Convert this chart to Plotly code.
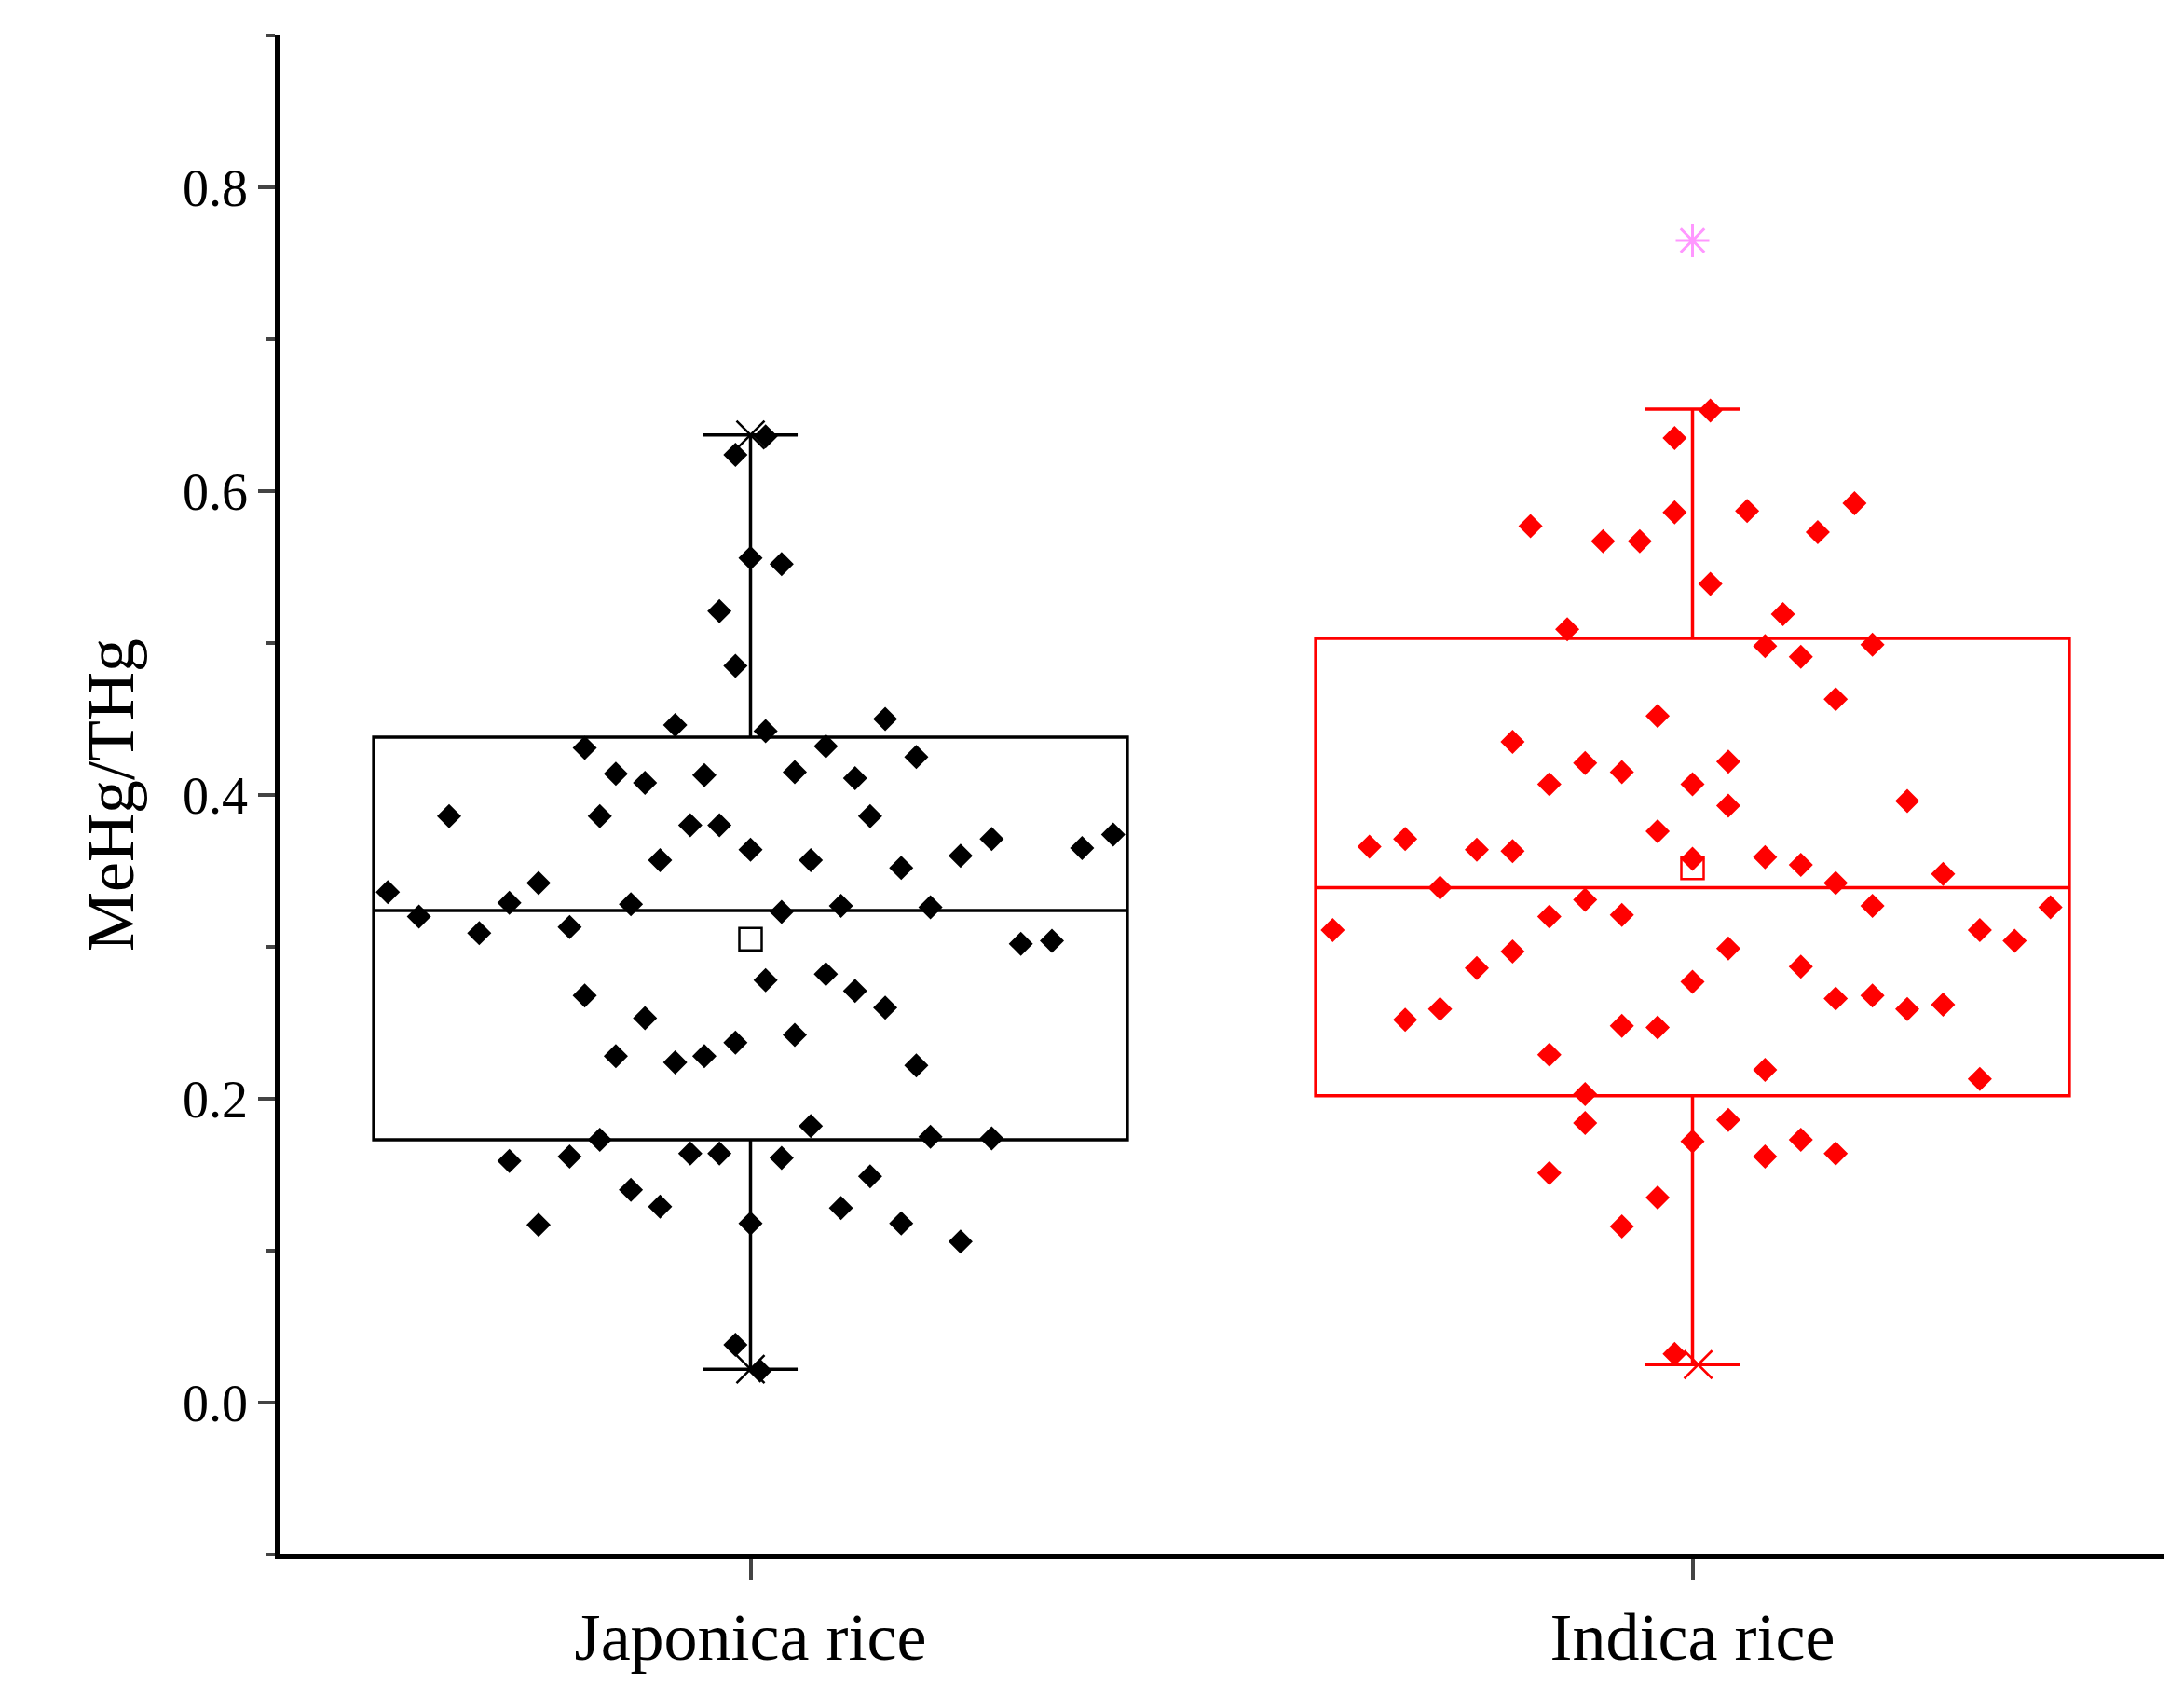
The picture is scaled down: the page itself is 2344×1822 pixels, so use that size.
import plotly.graph_objects as go

# group names and positions
groups = ["Japonica rice", "Indica rice"]
group_pos = [1, 2]
colors = ["black", "red"]

# box statistics
q1 = [0.173, 0.202]
median = [0.324, 0.339]
q3 = [0.438, 0.503]
lower = [0.022, 0.025]
upper = [0.637, 0.654]
means = [0.305, 0.352]

# min / max / outlier markers
jap_extreme_y = [0.637, 0.022]
ind_extreme_y = [0.025]
ind_outlier_y = [0.765]

# jittered raw points (horizontal offset from group centre, value)
jap_dx = [-0.385, -0.352, -0.320, -0.288, -0.256, -0.225, -0.192, -0.176, -0.160, -0.176,
          -0.143, -0.112, -0.127, -0.096, -0.080, -0.064, -0.049, -0.033, -0.033, -0.016,
          -0.016, 0.0, 0.016, 0.033, 0.016, 0.0, 0.047, 0.064, 0.080, 0.111,
          0.127, 0.143, 0.160, 0.176, 0.191, 0.223, 0.256, 0.287, 0.320, 0.352,
          0.385, -0.112, -0.143, -0.080, -0.049, -0.016, 0.016, 0.047, 0.080, 0.111,
          0.143, 0.176, 0.096, 0.033, -0.256, -0.225, -0.192, -0.160, -0.127, -0.096,
          -0.064, -0.033, 0.0, 0.033, 0.064, 0.096, 0.127, 0.160, 0.191, 0.223,
          0.256, -0.016, 0.010]
jap_y = [0.336, 0.320, 0.386, 0.309, 0.329, 0.342, 0.313, 0.268, 0.386, 0.431,
         0.414, 0.408, 0.328, 0.357, 0.446, 0.380, 0.413, 0.380, 0.521, 0.485,
         0.624, 0.556, 0.636, 0.552, 0.442, 0.364, 0.415, 0.357, 0.432, 0.411,
         0.386, 0.450, 0.352, 0.425, 0.326, 0.360, 0.371, 0.302, 0.304, 0.365,
         0.374, 0.253, 0.228, 0.224, 0.228, 0.237, 0.278, 0.242, 0.282, 0.271,
         0.260, 0.222, 0.327, 0.323, 0.159, 0.117, 0.162, 0.173, 0.140, 0.129,
         0.164, 0.164, 0.118, 0.161, 0.182, 0.128, 0.149, 0.118, 0.175, 0.106,
         0.174, 0.038, 0.021]

ind_dx = [-0.382, -0.343, -0.305, -0.305, -0.268, -0.268, -0.229, -0.229, -0.191, -0.191,
          -0.191, -0.172, -0.152, -0.152, -0.152, -0.133, -0.114, -0.114, -0.114, -0.114,
          -0.152, -0.095, -0.075, -0.075, -0.075, -0.075, -0.056, -0.037, -0.037, -0.037,
          -0.037, -0.019, -0.019, 0.0, 0.0, 0.0, 0.0, -0.019, 0.019, 0.019,
          0.038, 0.038, 0.038, 0.038, 0.058, 0.077, 0.077, 0.077, 0.077, 0.096,
          0.115, 0.115, 0.115, 0.115, 0.133, 0.152, 0.152, 0.152, 0.152, 0.172,
          0.191, 0.191, 0.191, 0.228, 0.228, 0.266, 0.266, 0.305, 0.305, 0.342,
          0.380]
ind_y = [0.311, 0.366, 0.371, 0.252, 0.339, 0.259, 0.364, 0.286, 0.363, 0.297,
         0.435, 0.577, 0.407, 0.320, 0.229, 0.509, 0.421, 0.331, 0.203, 0.184,
         0.151, 0.567, 0.415, 0.321, 0.248, 0.116, 0.567, 0.452, 0.376, 0.247,
         0.135, 0.586, 0.635, 0.407, 0.358, 0.277, 0.172, 0.032, 0.653, 0.539,
         0.422, 0.393, 0.299, 0.186, 0.587, 0.498, 0.359, 0.219, 0.162, 0.519,
         0.491, 0.354, 0.287, 0.173, 0.573, 0.463, 0.342, 0.266, 0.164, 0.592,
         0.499, 0.327, 0.268, 0.396, 0.259, 0.348, 0.262, 0.311, 0.213, 0.304,
         0.326]

yticks = [0.0, 0.2, 0.4, 0.6, 0.8]

FONT = "Liberation Serif"

fig = go.Figure()

for i in range(2):
    fig.add_trace(go.Box(
        x=[group_pos[i]], q1=[q1[i]], median=[median[i]], q3=[q3[i]],
        lowerfence=[lower[i]], upperfence=[upper[i]],
        width=0.8, whiskerwidth=0.125, boxpoints=False,
        fillcolor="rgba(0,0,0,0)", line=dict(color=colors[i], width=3.5),
        hoverinfo="skip"))

fig.add_trace(go.Scatter(
    x=[group_pos[0] + d for d in jap_dx], y=jap_y, mode="markers",
    marker=dict(symbol="diamond", size=20, color="black")))
fig.add_trace(go.Scatter(
    x=[group_pos[1] + d for d in ind_dx], y=ind_y, mode="markers",
    marker=dict(symbol="diamond", size=20, color="red")))

for i in range(2):
    fig.add_trace(go.Scatter(
        x=[group_pos[i]], y=[means[i]], mode="markers",
        marker=dict(symbol="square-open", size=24, color=colors[i],
                    line=dict(width=2.5, color=colors[i]))))

fig.add_trace(go.Scatter(
    x=[group_pos[0]] * len(jap_extreme_y), y=jap_extreme_y, mode="markers",
    marker=dict(symbol="x-thin", size=30, line=dict(width=2.5, color="black"))))
fig.add_trace(go.Scatter(
    x=[group_pos[1] + 0.006], y=ind_extreme_y, mode="markers",
    marker=dict(symbol="x-thin", size=30, line=dict(width=2.5, color="red"))))
fig.add_trace(go.Scatter(
    x=[group_pos[1]], y=ind_outlier_y, mode="markers",
    marker=dict(symbol="asterisk-open", size=30, line=dict(width=3, color="red"))))

fig.update_layout(
    width=2344, height=1822, showlegend=False,
    plot_bgcolor="white", paper_bgcolor="white",
    margin=dict(l=292, r=30, t=30, b=162),
    font=dict(family=FONT, color="black"),
)
fig.update_xaxes(
    range=[0.5, 2.5], tickvals=group_pos, ticktext=groups,
    tickfont=dict(size=72, family=FONT), ticks="outside", ticklen=22,
    tickwidth=4, showline=True, linewidth=4.5, linecolor="black",
    showgrid=False, zeroline=False)
fig.update_yaxes(
    range=[-0.1, 0.9], tickvals=yticks, ticktext=[f"{v:.1f}" for v in yticks],
    tickfont=dict(size=56, family=FONT), ticks="outside", ticklen=18,
    tickwidth=4, showline=True, linewidth=4.5, linecolor="black",
    showgrid=False, zeroline=False,
    minor=dict(dtick=0.1, ticks="outside", ticklen=10, tickwidth=4, tick0=-0.1),
    title=dict(text="MeHg/THg", font=dict(size=72, family=FONT), standoff=30))

fig.write_html("out.html")
